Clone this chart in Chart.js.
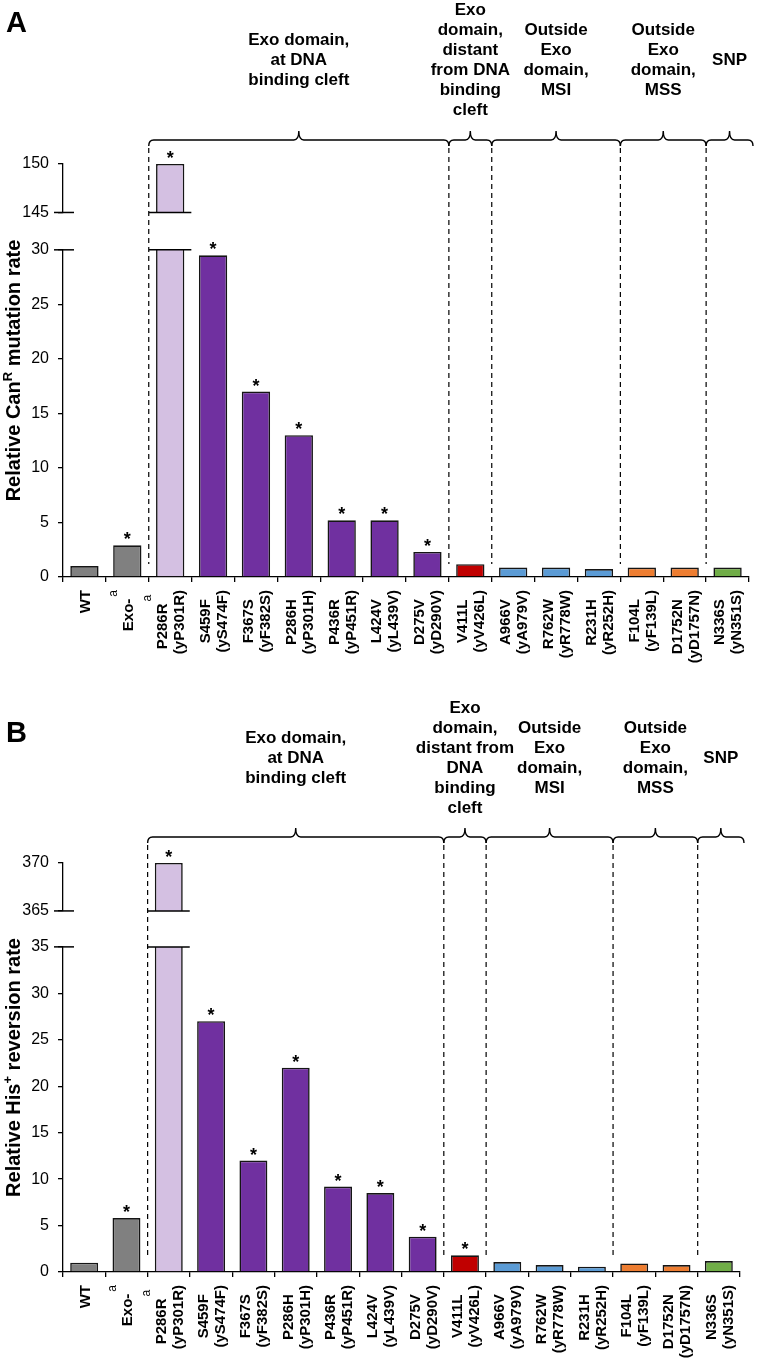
<!DOCTYPE html>
<html>
<head>
<meta charset="utf-8">
<script src="https://cdn.jsdelivr.net/npm/chart.js@4.4.1/dist/chart.umd.min.js"></script>
<style>
  body { margin: 0; background: #fff; }
  #wrap { position: relative; width: 757px; height: 1363px; }
  canvas { position: absolute; left: 0; }
</style>
</head>
<body>
<div id="wrap">
  <canvas id="chartA" width="757" height="680" style="top:0"></canvas>
  <canvas id="chartB" width="757" height="683" style="top:680px"></canvas>
</div>
<script>
// categories
const mutants = ['WT', 'Exo-', 'P286R', 'S459F', 'F367S', 'P286H', 'P436R', 'L424V', 'D275V',
  'V411L', 'A966V', 'R762W', 'R231H', 'F104L', 'D1752N', 'N336S'];
const yeastNames = ['', '', '(yP301R)', '(yS474F)', '(yF382S)', '(yP301H)', '(yP451R)', '(yL439V)', '(yD290V)',
  '(yV426L)', '(yA979V)', '(yR778W)', '(yR252H)', '(yF139L)', '(yD1757N)', '(yN351S)'];
const footnotes = ['', 'a', 'a', '', '', '', '', '', '', '', '', '', '', '', '', ''];

// panel A: relative CanR mutation rate
const canRates = [1, 2.9, 150, 29.5, 17, 13, 5.2, 5.2, 2.3, 1.17, 0.86, 0.86, 0.73, 0.86, 0.86, 0.86];
const canSignificant = [0, 1, 1, 1, 1, 1, 1, 1, 1, 0, 0, 0, 0, 0, 0, 0];
const canLowerRange = [0, 30];
const canUpperRange = [145, 150];

// panel B: relative His+ reversion rate
const hisRates = [1, 5.8, 370, 27, 12, 22, 9.2, 8.5, 3.8, 1.8, 1.07, 0.75, 0.57, 0.92, 0.75, 1.18];
const hisSignificant = [0, 1, 1, 1, 1, 1, 1, 1, 1, 1, 0, 0, 0, 0, 0, 0];
const hisLowerRange = [0, 35];
const hisUpperRange = [365, 370];

// groups (first / last category index)
const groupFirst = [2, 9, 10, 13, 15];
const groupLast = [8, 9, 12, 14, 15];
const groupLabelsA = [
  ['Exo domain,', 'at DNA', 'binding cleft'],
  ['Exo', 'domain,', 'distant', 'from DNA', 'binding', 'cleft'],
  ['Outside', 'Exo', 'domain,', 'MSI'],
  ['Outside', 'Exo', 'domain,', 'MSS'],
  ['SNP']
];
const groupLabelsB = [
  ['Exo domain,', 'at DNA', 'binding cleft'],
  ['Exo', 'domain,', 'distant from', 'DNA', 'binding', 'cleft'],
  ['Outside', 'Exo', 'domain,', 'MSI'],
  ['Outside', 'Exo', 'domain,', 'MSS'],
  ['SNP']
];

const barColors = ['#808080', '#808080', '#D4C0E2', '#7030A0', '#7030A0', '#7030A0', '#7030A0', '#7030A0',
  '#7030A0', '#C00000', '#5B9BD5', '#5B9BD5', '#5B9BD5', '#ED7D31', '#ED7D31', '#70AD47'];

const FONT = '"Liberation Sans", Arial, Helvetica, sans-serif';

function line(ctx, x0, y0, x1, y1) {
  ctx.beginPath();
  ctx.moveTo(x0, y0);
  ctx.lineTo(x1, y1);
  ctx.stroke();
}

function drawBrace(ctx, x0, x1, y) {
  const xm = (x0 + x1) / 2;
  const r = 5;
  ctx.beginPath();
  ctx.moveTo(x0, y + 6);
  ctx.quadraticCurveTo(x0, y, x0 + r, y);
  ctx.lineTo(xm - r, y);
  ctx.quadraticCurveTo(xm, y, xm, y - 9);
  ctx.quadraticCurveTo(xm, y, xm + r, y);
  ctx.lineTo(x1 - r, y);
  ctx.quadraticCurveTo(x1, y, x1, y + 6);
  ctx.stroke();
}

function makeDecor(p, upperData) {
  return {
    id: 'decor',
    // keep each dataset inside its own segment of the broken axis
    beforeDatasetDraw(chart, args) {
      const sc = chart.scales[args.meta.yAxisID];
      const ctx = chart.ctx;
      ctx.save();
      ctx.beginPath();
      ctx.rect(0, sc.top - 1, chart.width, sc.bottom - sc.top + 2);
      ctx.clip();
    },
    afterDatasetDraw(chart) {
      chart.ctx.restore();
    },
    afterDraw(chart) {
      const ctx = chart.ctx;
      const xs = chart.scales.x, yLow = chart.scales.y, yTop = chart.scales.yTop;
      const axisX = yLow.right;
      const base = yLow.bottom;
      const step = xs.getPixelForValue(1) - xs.getPixelForValue(0);
      const lowerMeta = chart.getDatasetMeta(0), upperMeta = chart.getDatasetMeta(1);
      ctx.save();
      ctx.strokeStyle = '#000';
      ctx.fillStyle = '#000';

      // axis break marks
      ctx.lineWidth = 1.5;
      const breaks = [yTop.bottom, yLow.top];
      breaks.forEach(y => line(ctx, axisX - 9, y, axisX + 11, y));
      upperData.forEach((v, i) => {
        if (v == null) return;
        const bar = upperMeta.data[i];
        const half = bar.width / 2;
        breaks.forEach(y => line(ctx, bar.x - half - 7, y, bar.x + half + 7, y));
      });

      // significance stars
      ctx.font = 'bold 18px ' + FONT;
      ctx.textAlign = 'center';
      ctx.textBaseline = 'alphabetic';
      p.sig.forEach((s, i) => {
        if (!s) return;
        const el = (upperData[i] != null ? upperMeta : lowerMeta).data[i];
        ctx.fillText('*', el.x, el.y);
      });

      // dashed separators
      ctx.lineWidth = 1.2;
      ctx.setLineDash([5, 4]);
      groupFirst.forEach(g => {
        const x = xs.getPixelForValue(g) - step / 2;
        line(ctx, x, p.braceY + 8, x, base - 13);
      });
      ctx.setLineDash([]);

      // braces and group labels
      ctx.lineWidth = 1.4;
      groupFirst.forEach((g, k) => {
        const x0 = xs.getPixelForValue(g) - step / 2;
        let x1 = xs.getPixelForValue(groupLast[k]) + step / 2;
        if (k === groupFirst.length - 1) x1 += 4;
        drawBrace(ctx, x0, x1, p.braceY);
        const lines = p.groupLabels[k];
        ctx.font = 'bold 17px ' + FONT;
        ctx.textAlign = 'center';
        ctx.textBaseline = 'middle';
        lines.forEach((t, j) => {
          ctx.fillText(t, (x0 + x1) / 2, p.labelCenterY + (j - (lines.length - 1) / 2) * 20);
        });
      });

      // x labels (rotated, lines centred on each other)
      const labTop = base + 13;
      mutants.forEach((m, i) => {
        const lines = yeastNames[i] ? [m, yeastNames[i]] : [m];
        const cx = xs.getPixelForValue(i);
        ctx.font = 'bold 15px ' + FONT;
        const widths = lines.map(t => ctx.measureText(t).width);
        let supW = 0;
        if (footnotes[i]) {
          ctx.font = '12px ' + FONT;
          supW = ctx.measureText(footnotes[i]).width + 2;
        }
        const lens = widths.map((w, j) => w + (j === 0 ? supW : 0));
        const blockLen = Math.max(...lens);
        lines.forEach((t, j) => {
          const lx = cx + (j - (lines.length - 1) / 2) * 17;
          ctx.save();
          ctx.translate(lx, labTop + blockLen / 2);
          ctx.rotate(-Math.PI / 2);
          ctx.textAlign = 'left';
          ctx.textBaseline = 'alphabetic';
          ctx.font = 'bold 15px ' + FONT;
          ctx.fillText(t, -lens[j] / 2, 5.4);
          if (j === 0 && footnotes[i]) {
            ctx.font = '12px ' + FONT;
            ctx.fillText(footnotes[i], -lens[j] / 2 + widths[0] + 2, 5.4 - 16);
          }
          ctx.restore();
        });
      });

      // y title with superscript
      const cy = (yTop.top + yLow.bottom) / 2;
      ctx.save();
      ctx.translate(13, cy);
      ctx.rotate(-Math.PI / 2);
      ctx.textAlign = 'left';
      ctx.textBaseline = 'alphabetic';
      const [t1, sup, t3] = p.title;
      ctx.font = 'bold 20px ' + FONT;
      const w1 = ctx.measureText(t1).width, w3 = ctx.measureText(t3).width;
      ctx.font = 'bold 13px ' + FONT;
      const ws = ctx.measureText(sup).width;
      const start = -(w1 + ws + w3) / 2;
      ctx.font = 'bold 20px ' + FONT;
      ctx.fillText(t1, start, 7);
      ctx.fillText(t3, start + w1 + ws, 7);
      ctx.font = 'bold 13px ' + FONT;
      ctx.fillText(sup, start + w1, -1);
      ctx.restore();

      // panel letter
      ctx.font = 'bold 29px ' + FONT;
      ctx.textAlign = 'left';
      ctx.textBaseline = 'alphabetic';
      ctx.fillText(p.letter, 6, p.letterY);
      ctx.restore();
    }
  };
}

function yAxis(range, weight) {
  return {
    type: 'linear',
    position: 'left',
    stack: 'v',
    stackWeight: weight,
    min: range[0],
    max: range[1],
    ticks: { stepSize: 5, color: '#000', padding: 9, font: { family: FONT, size: 16 } },
    grid: { drawOnChartArea: false, tickLength: 5, color: '#000', lineWidth: 1.3 },
    border: { color: '#000', width: 1.3 },
    afterFit(s) { s.width = 63; }
  };
}

function buildPanel(p) {
  const upperData = p.rates.map(v => (v >= p.upperRange[0] ? v : null));
  const barStyle = {
    backgroundColor: barColors,
    borderColor: '#151515',
    borderWidth: 1.6,
    grouped: false,
    barPercentage: 0.66,
    categoryPercentage: 1
  };
  return new Chart(document.getElementById(p.canvasId), {
    type: 'bar',
    data: {
      labels: mutants,
      datasets: [
        Object.assign({ data: p.rates, yAxisID: 'y' }, barStyle),
        Object.assign({ data: upperData, yAxisID: 'yTop' }, barStyle)
      ]
    },
    options: {
      responsive: false,
      animation: false,
      devicePixelRatio: 1,
      layout: { padding: { top: p.padTop, right: p.padRight, left: 0, bottom: 0 } },
      plugins: { legend: { display: false }, tooltip: { enabled: false } },
      scales: {
        x: {
          grid: { drawOnChartArea: false, tickLength: 5, color: '#000', lineWidth: 1.3, offset: true },
          border: { color: '#000', width: 1.3 },
          ticks: { display: false },
          afterFit(s) { s.height = p.xHeight; }
        },
        y: yAxis(p.lowerRange, p.weights[0]),
        yGap: {
          type: 'linear', position: 'left', stack: 'v', stackWeight: p.weights[1],
          min: 0, max: 1,
          ticks: { display: false },
          grid: { display: false },
          border: { display: false },
          afterFit(s) { s.width = 63; }
        },
        yTop: yAxis(p.upperRange, p.weights[2])
      }
    },
    plugins: [makeDecor(p, upperData)]
  });
}

buildPanel({
  canvasId: 'chartA', letter: 'A', letterY: 32,
  rates: canRates, sig: canSignificant,
  lowerRange: canLowerRange, upperRange: canUpperRange,
  title: ['Relative Can', 'R', ' mutation rate'],
  groupLabels: groupLabelsA,
  padTop: 164, padRight: 8, xHeight: 103,
  weights: [326.7, 37.3, 48.4],
  braceY: 140, labelCenterY: 60
});

buildPanel({
  canvasId: 'chartB', letter: 'B', letterY: 62,
  rates: hisRates, sig: hisSignificant,
  lowerRange: hisLowerRange, upperRange: hisUpperRange,
  title: ['Relative His', '+', ' reversion rate'],
  groupLabels: groupLabelsB,
  padTop: 183, padRight: 17, xHeight: 91,
  weights: [325.6, 36, 48],
  braceY: 157, labelCenterY: 78
});
</script>
</body>
</html>
